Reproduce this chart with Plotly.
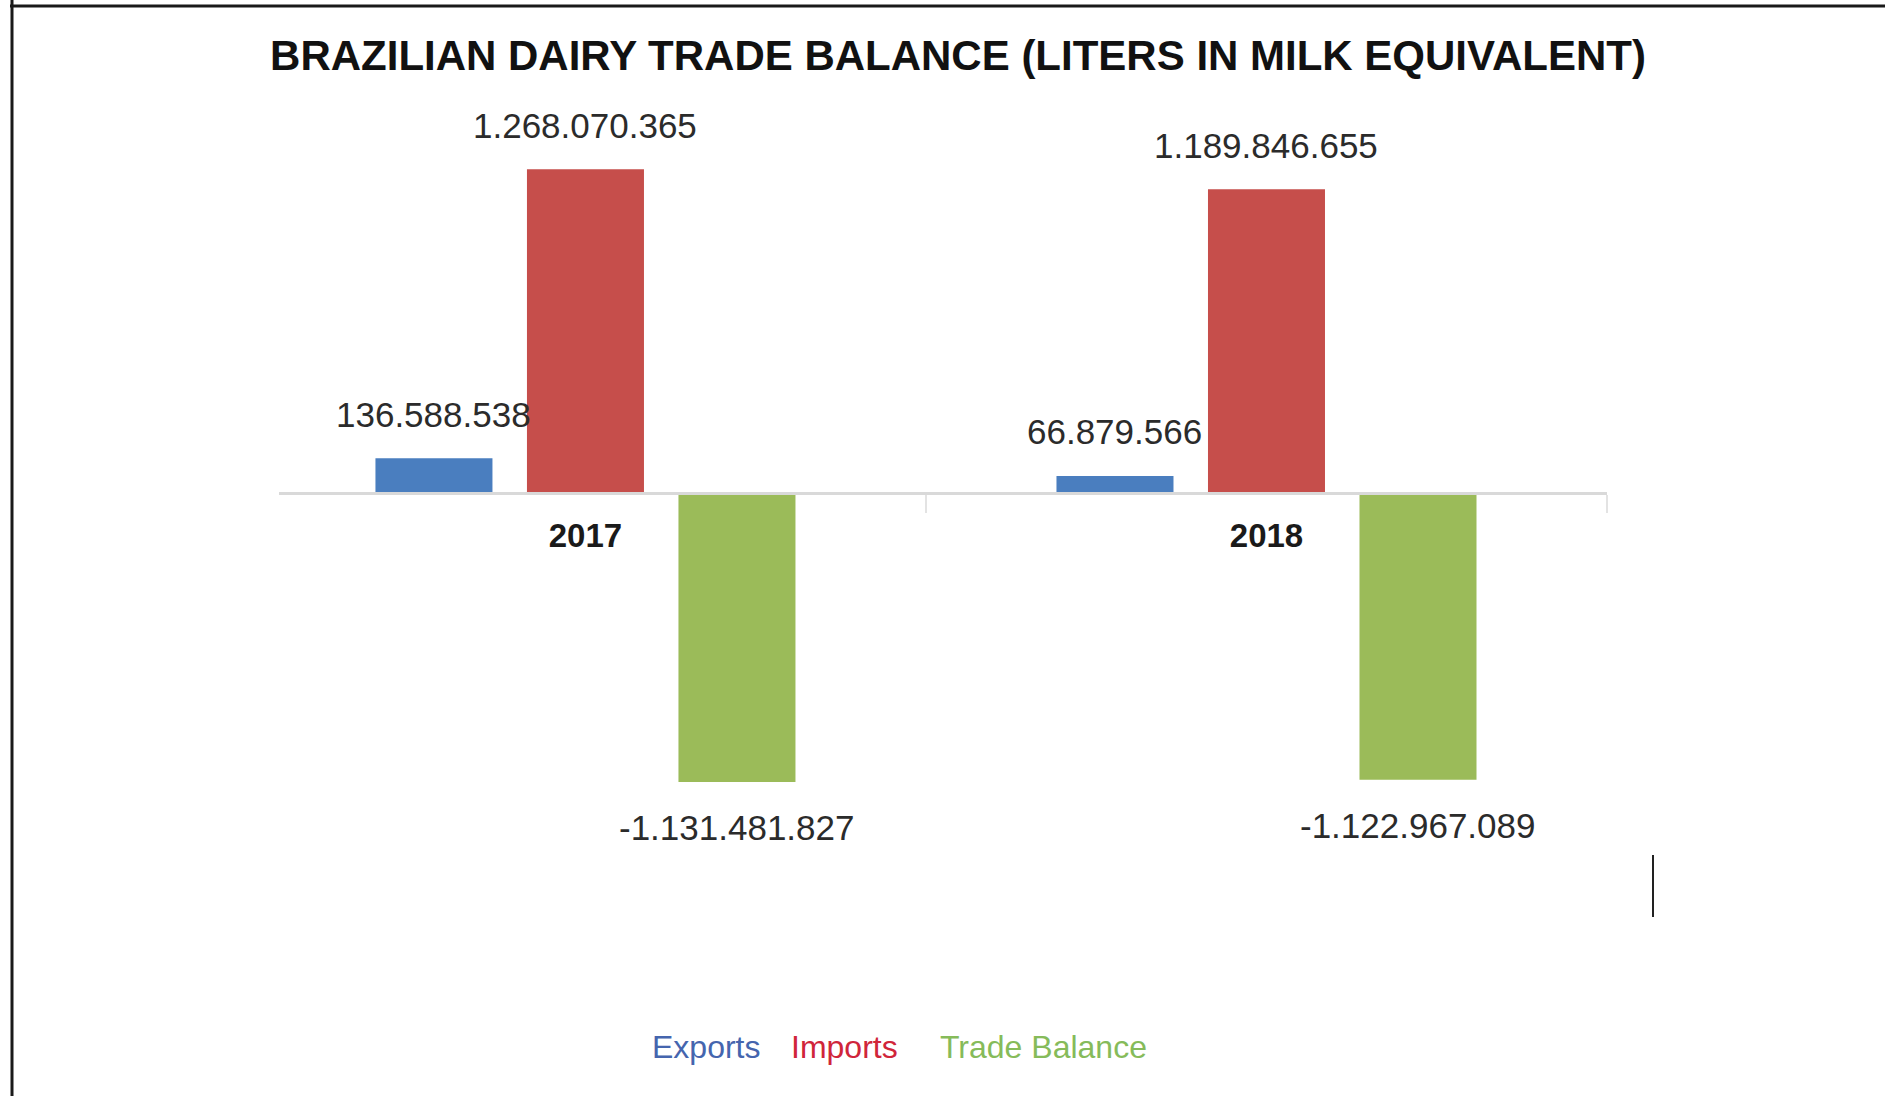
import plotly.graph_objects as go

# ---- data ----
years = ["2017", "2018"]
series_names = ["Exports", "Imports", "Trade Balance"]
exports = [136588538, 66879566]
imports = [1268070365, 1189846655]
trade_balance = [-1131481827, -1122967089]
bar_colors = ["#4A7EBF", "#C64E4B", "#9BBB59"]
legend_colors = ["#4565AE", "#D0253A", "#86BB5A"]
title_text = "BRAZILIAN DAIRY TRADE BALANCE (LITERS IN MILK EQUIVALENT)"

W, H = 1885, 1096
L, R, T, B = 279, 278, 130, 196
plot_w = W - L - R
plot_h = H - T - B
y_range = [-1.594e9, 1.422e9]
bargap = 0.3326
bargroupgap = 0.2277

FONT = "Liberation Sans, Arial, sans-serif"


def fmt(v):
    return f"{v:,}".replace(",", ".")


def px_x(px):
    return (px - L) / plot_w


def px_y(py):
    return (H - B - py) / plot_h


series = [exports, imports, trade_balance]

fig = go.Figure()
for name, vals, col in zip(series_names, series, bar_colors):
    fig.add_trace(go.Bar(x=years, y=vals, name=name, marker=dict(color=col, line=dict(width=0)),
                         showlegend=False, hoverinfo="x+y+name"))

annotations = []
slot = (1 - bargap) / len(series)
for k, vals in enumerate(series):
    for i, v in enumerate(vals):
        annotations.append(dict(
            x=i + (k - (len(series) - 1) / 2) * slot, y=v, xref="x", yref="y",
            text=fmt(v), showarrow=False, yanchor="middle", xanchor="center",
            yshift=44 if v >= 0 else -46,
            font=dict(family=FONT, size=35, color="#2b2b2b")))

# legend as coloured text
legend_x = [650, 789, 938]
for name, col, lx in zip(series_names, legend_colors, legend_x):
    annotations.append(dict(
        x=px_x(lx), y=px_y(1047), xref="paper", yref="paper", text=name, showarrow=False,
        xanchor="left", yanchor="middle", font=dict(family=FONT, size=32, color=col)))

zero_pos = (0 - y_range[0]) / (y_range[1] - y_range[0])

shapes = [
    # frame (left and top border of the picture)
    dict(type="line", xref="paper", yref="paper", x0=px_x(12), x1=px_x(12), y0=px_y(0), y1=px_y(H),
         line=dict(color="#1a1a1a", width=3)),
    dict(type="line", xref="paper", yref="paper", x0=px_x(10), x1=px_x(W), y0=px_y(6), y1=px_y(6),
         line=dict(color="#1a1a1a", width=3)),
    # stray cursor mark
    dict(type="line", xref="paper", yref="paper", x0=px_x(1653), x1=px_x(1653), y0=px_y(855), y1=px_y(917),
         line=dict(color="#222222", width=2)),
]

fig.update_layout(
    width=W, height=H,
    margin=dict(l=L, r=R, t=T, b=B, pad=0),
    paper_bgcolor="white", plot_bgcolor="white",
    barmode="group", bargap=bargap, bargroupgap=bargroupgap,
    title=dict(text=title_text, x=958 / W, xanchor="center", y=1 - 55 / H, yanchor="middle",
               font=dict(family=FONT, size=42, color="#111111", weight="bold")),
    xaxis=dict(type="category", range=[-0.45, 1.5], anchor="free", position=zero_pos,
               showline=True, linecolor="#D9D9D9", linewidth=3,
               ticks="outside", tickson="boundaries", ticklen=18, tickcolor="#E3E3E3", tickwidth=2,
               ticklabelstandoff=12,
               showgrid=False, zeroline=False,
               tickfont=dict(family=FONT, size=33, color="#1a1a1a", weight="bold")),
    yaxis=dict(range=y_range, visible=False, showgrid=False, zeroline=False),
    annotations=annotations,
    shapes=shapes,
    showlegend=False,
)

fig.write_html("out.html", config={"displayModeBar": False},
               post_script="document.body.style.margin='0';document.body.style.overflow='hidden';")
